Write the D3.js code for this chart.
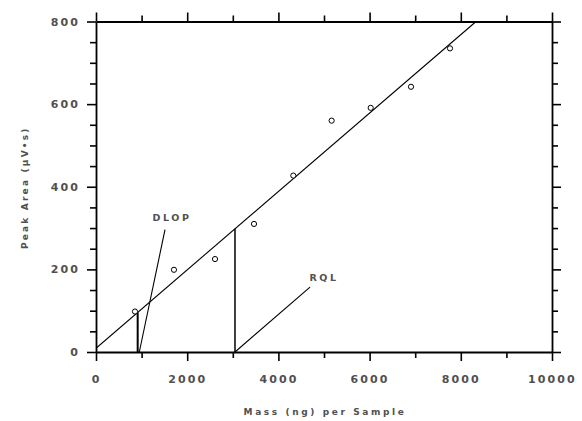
<!DOCTYPE html>
<html>
<head>
<meta charset="utf-8">
<script src="https://cdn.jsdelivr.net/npm/d3@7"></script>
<style>
  html, body { margin: 0; padding: 0; background: #fff; }
  svg { display: block; }
  text { font-family: "DejaVu Sans", sans-serif; font-weight: bold; fill: #505050; }
</style>
</head>
<body>
<svg id="chart" width="582" height="421"></svg>
<script>
// Calibration samples: mass per sample (ng) and peak area (µV·s)
const massValues = [855, 1710, 2610, 3465, 4327, 5168, 6024, 6908, 7763];
const areaValues = [98, 199, 225, 310, 427, 560, 591, 642, 735];

// Calibration line: area = intercept + slope * mass
const fitIntercept = 9;
const fitSlope = 0.0949;

// Detection limit and reliable quantitation limit (ng per sample)
const limitNames = ["DLOP", "RQL"];
const limitMass = [914, 3048];
// Pointer lines: from the axis at this mass up to the label end point
const pointerStartMass = [950, 3048];
const pointerEndMass = [1513, 4693];
const pointerEndArea = [296, 157];

const xTicks = [0, 2000, 4000, 6000, 8000, 10000];
const yTicks = [0, 200, 400, 600, 800];
const xMinorTicks = d3.range(1000, 10000, 2000);
const yMinorTicks = d3.range(50, 800, 50).filter(v => v % 200 !== 0);

const svg = d3.select("#chart");
const plot = { left: 96, right: 552, top: 21.5, bottom: 352 };

const x = d3.scaleLinear().domain([0, 10000]).range([plot.left, plot.right]);
const y = d3.scaleLinear().domain([0, 800]).range([plot.bottom, plot.top]);

const major = 9, minor = 6;

function styleAxis(g) {
  g.select(".domain").attr("stroke", "#000").attr("stroke-width", 1.8);
  g.selectAll(".tick line").attr("stroke", "#000").attr("stroke-width", 1.6);
  g.selectAll("text")
    .style("font-family", "DejaVu Sans, sans-serif")
    .style("font-weight", "bold")
    .style("font-size", "11px")
    .style("letter-spacing", "2.1px")
    .attr("fill", "#505050");
}

// Minor ticks (drawn first, under the main axes)
function minorAxis(axisFn, scale, values, transform) {
  svg.append("g").attr("transform", transform)
    .call(axisFn(scale).tickValues(values).tickSize(minor).tickSizeOuter(0).tickFormat(""))
    .call(g => { g.select(".domain").remove(); g.selectAll(".tick line").attr("stroke", "#000").attr("stroke-width", 1.6); });
}
minorAxis(d3.axisBottom, x, xMinorTicks, `translate(0,${plot.bottom})`);
minorAxis(d3.axisTop, x, xMinorTicks, `translate(0,${plot.top})`);
minorAxis(d3.axisLeft, y, yMinorTicks, `translate(${plot.left},0)`);
minorAxis(d3.axisRight, y, yMinorTicks, `translate(${plot.right},0)`);

// Main axes
svg.append("g").attr("transform", `translate(0,${plot.bottom})`)
  .call(d3.axisBottom(x).tickValues(xTicks).tickSize(major).tickSizeOuter(0).tickPadding(14).tickFormat(d3.format("d")))
  .call(styleAxis);
svg.append("g").attr("transform", `translate(0,${plot.top})`)
  .call(d3.axisTop(x).tickValues(xTicks).tickSize(major).tickSizeOuter(0).tickFormat(""))
  .call(styleAxis);
svg.append("g").attr("transform", `translate(${plot.left},0)`)
  .call(d3.axisLeft(y).tickValues(yTicks).tickSize(major).tickSizeOuter(0).tickPadding(7).tickFormat(d3.format("d")))
  .call(styleAxis);
svg.append("g").attr("transform", `translate(${plot.right},0)`)
  .call(d3.axisRight(y).tickValues(yTicks).tickSize(major).tickSizeOuter(0).tickFormat(""))
  .call(styleAxis);

// Calibration line, clipped to the plot frame
svg.append("clipPath").attr("id", "frame")
  .append("rect").attr("x", plot.left).attr("y", plot.top)
  .attr("width", plot.right - plot.left).attr("height", plot.bottom - plot.top);
const fitEndMass = (800 - fitIntercept) / fitSlope;
svg.append("line")
  .attr("clip-path", "url(#frame)")
  .attr("x1", x(0)).attr("y1", y(fitIntercept))
  .attr("x2", x(fitEndMass)).attr("y2", y(fitIntercept + fitSlope * fitEndMass))
  .attr("stroke", "#000").attr("stroke-width", 1.1);

// Vertical lines at each limit, up to the calibration line
limitMass.forEach((m, i) => {
  svg.append("line")
    .attr("x1", x(m)).attr("x2", x(m))
    .attr("y1", y(0)).attr("y2", y(fitIntercept + fitSlope * m))
    .attr("stroke", "#000").attr("stroke-width", i === 0 ? 2 : 1.5);
});

// Pointer lines and their labels
const labelOffset = [[7, -9], [14, -6]];
limitNames.forEach((name, i) => {
  svg.append("line")
    .attr("x1", x(pointerStartMass[i])).attr("y1", y(0))
    .attr("x2", x(pointerEndMass[i])).attr("y2", y(pointerEndArea[i]))
    .attr("stroke", "#000").attr("stroke-width", 1.1);
  svg.append("text")
    .attr("x", x(pointerEndMass[i]) + labelOffset[i][0])
    .attr("y", y(pointerEndArea[i]) + labelOffset[i][1])
    .attr("text-anchor", "middle")
    .style("font-size", "9.5px").style("letter-spacing", "2.6px")
    .text(name);
});

// Sample points
svg.append("g").selectAll("circle")
  .data(massValues.map((m, i) => [m, areaValues[i]]))
  .join("circle")
  .attr("cx", d => x(d[0])).attr("cy", d => y(d[1]))
  .attr("r", 2.6)
  .attr("fill", "#fff").attr("stroke", "#000").attr("stroke-width", 1);

// Axis titles
svg.append("text")
  .attr("x", (plot.left + plot.right) / 2 + 1).attr("y", 415)
  .attr("text-anchor", "middle")
  .style("font-size", "9px").style("letter-spacing", "2.6px")
  .text("Mass (ng) per Sample");
svg.append("text")
  .attr("transform", `translate(28,${(plot.top + plot.bottom) / 2 + 1}) rotate(-90)`)
  .attr("text-anchor", "middle")
  .style("font-size", "9px").style("letter-spacing", "2.2px")
  .text("Peak Area (μV•s)");
</script>
</body>
</html>
